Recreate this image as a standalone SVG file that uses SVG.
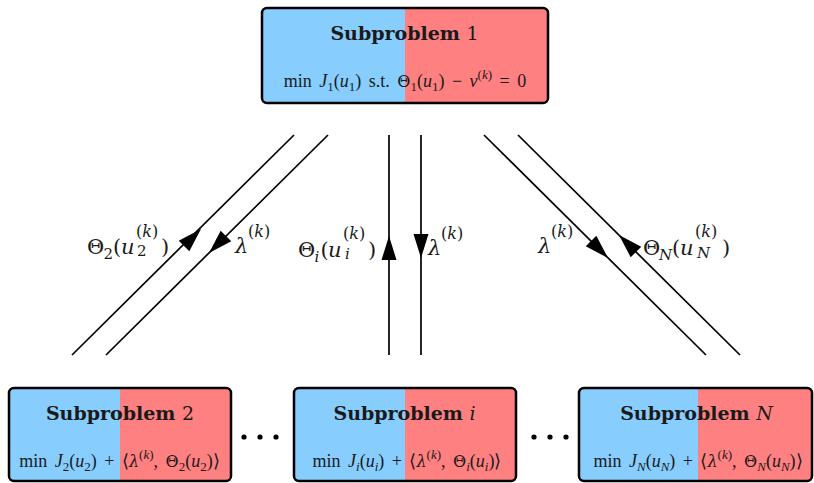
<svg xmlns="http://www.w3.org/2000/svg" xmlns:xlink="http://www.w3.org/1999/xlink" width="814" height="483" viewBox="0 0 814 483">
<style>
.bd{stroke:#000;stroke-width:2.5;fill:none}
.bl{fill:#87CEFF}
.rd{fill:#FF8080}
.t{fill:#1a1a1a}
.ttl{font-family:"DejaVu Serif",serif;font-size:19px;font-weight:bold}
.fm{font-family:"Liberation Serif",serif;font-size:18px;word-spacing:3px}
.g{font-family:"DejaVu Serif",serif;font-size:16px}
.lb{font-family:"DejaVu Serif",serif;font-size:21px}
.sp{font-size:16px}
.sb{font-size:15px}
.s{font-size:13px}
.i{font-style:italic}
.ln{stroke:#000;stroke-width:1.7;fill:none}
.ah{fill:#000}
.dot{fill:#000}
</style>
<defs>
<path id="ah" d="M0,0 L-24,-7.5 L-24,7.5 Z"/>
</defs>
<rect width="814" height="483" fill="#fff"/>
<g id="sub1">
<rect class="rd" x="262" y="8" width="286" height="95" rx="5"/>
<path class="bl" d="M267,8 H405 V103 H267 A5,5 0 0 1 262,98 V13 A5,5 0 0 1 267,8 Z"/>
<rect class="bd" x="262" y="8" width="286" height="95" rx="5"/>
<text class="t ttl" x="404.5" y="40" text-anchor="middle">Subproblem <tspan font-weight="normal">1</tspan></text>
<text class="t fm" x="405" y="87" text-anchor="middle">min <tspan class="i">J</tspan><tspan class="s" dy="4">1</tspan><tspan dy="-4">(</tspan><tspan class="i">u</tspan><tspan class="s" dy="4">1</tspan><tspan dy="-4">) s.t. </tspan><tspan class="g">Θ</tspan><tspan class="s" dy="4">1</tspan><tspan dy="-4">(</tspan><tspan class="i">u</tspan><tspan class="s" dy="4">1</tspan><tspan dy="-4">) − </tspan><tspan class="i">v</tspan><tspan class="s" dy="-8">(</tspan><tspan class="s i">k</tspan><tspan class="s">)</tspan><tspan dy="8"> = 0</tspan></text>
</g>

<g id="sub2">
<rect class="rd" x="9" y="388" width="222" height="93" rx="5"/>
<path class="bl" d="M14,388 H120 V481 H14 A5,5 0 0 1 9,476 V393 A5,5 0 0 1 14,388 Z"/>
<rect class="bd" x="9" y="388" width="222" height="93" rx="5"/>
<text class="t ttl" x="120" y="420" text-anchor="middle">Subproblem <tspan font-weight="normal">2</tspan></text>
<text class="t fm" x="119.5" y="467" text-anchor="middle">min <tspan class="i">J</tspan><tspan class="s" dy="4">2</tspan><tspan dy="-4">(</tspan><tspan class="i">u</tspan><tspan class="s" dy="4">2</tspan><tspan dy="-4">) + ⟨</tspan><tspan class="g i">λ</tspan><tspan class="s" dy="-8">(</tspan><tspan class="s i">k</tspan><tspan class="s">)</tspan><tspan dy="8">, </tspan><tspan class="g">Θ</tspan><tspan class="s" dy="4">2</tspan><tspan dy="-4">(</tspan><tspan class="i">u</tspan><tspan class="s" dy="4">2</tspan><tspan dy="-4">)⟩</tspan></text>
</g>

<g id="subi">
<rect class="rd" x="294" y="388" width="222" height="93" rx="5"/>
<path class="bl" d="M299,388 H405 V481 H299 A5,5 0 0 1 294,476 V393 A5,5 0 0 1 299,388 Z"/>
<rect class="bd" x="294" y="388" width="222" height="93" rx="5"/>
<text class="t ttl" x="404.5" y="420" text-anchor="middle">Subproblem <tspan class="i" font-weight="normal">i</tspan></text>
<text class="t fm" x="407" y="467" text-anchor="middle">min <tspan class="i">J</tspan><tspan class="s i" dy="4">i</tspan><tspan dy="-4">(</tspan><tspan class="i">u</tspan><tspan class="s i" dy="4">i</tspan><tspan dy="-4">) + ⟨</tspan><tspan class="g i">λ</tspan><tspan class="s" dy="-8">(</tspan><tspan class="s i">k</tspan><tspan class="s">)</tspan><tspan dy="8">, </tspan><tspan class="g">Θ</tspan><tspan class="s i" dy="4">i</tspan><tspan dy="-4">(</tspan><tspan class="i">u</tspan><tspan class="s i" dy="4">i</tspan><tspan dy="-4">)⟩</tspan></text>
</g>

<g id="subN">
<rect class="rd" x="579" y="388" width="233" height="93" rx="5"/>
<path class="bl" d="M584,388 H698 V481 H584 A5,5 0 0 1 579,476 V393 A5,5 0 0 1 584,388 Z"/>
<rect class="bd" x="579" y="388" width="233" height="93" rx="5"/>
<text class="t ttl" x="696.5" y="420" text-anchor="middle">Subproblem <tspan class="i" font-weight="normal">N</tspan></text>
<text class="t fm" x="698" y="467" text-anchor="middle">min <tspan class="i">J</tspan><tspan class="s i" dy="4">N</tspan><tspan dy="-4">(</tspan><tspan class="i">u</tspan><tspan class="s i" dy="4">N</tspan><tspan dy="-4">) + ⟨</tspan><tspan class="g i">λ</tspan><tspan class="s" dy="-8">(</tspan><tspan class="s i">k</tspan><tspan class="s">)</tspan><tspan dy="8">, </tspan><tspan class="g">Θ</tspan><tspan class="s i" dy="4">N</tspan><tspan dy="-4">(</tspan><tspan class="i">u</tspan><tspan class="s i" dy="4">N</tspan><tspan dy="-4">)⟩</tspan></text>
</g>

<g id="dots">
<circle class="dot" cx="244" cy="437" r="2.6"/>
<circle class="dot" cx="260" cy="437" r="2.6"/>
<circle class="dot" cx="276" cy="437" r="2.6"/>
<circle class="dot" cx="534" cy="437" r="2.6"/>
<circle class="dot" cx="550" cy="437" r="2.6"/>
<circle class="dot" cx="566" cy="437" r="2.6"/>
</g>

<g id="connectors">
<line class="ln" x1="72" y1="355" x2="294" y2="135"/>
<line class="ln" x1="106" y1="355" x2="328" y2="135"/>
<line class="ln" x1="389" y1="355" x2="389" y2="135"/>
<line class="ln" x1="421" y1="355" x2="421" y2="135"/>
<line class="ln" x1="484" y1="135" x2="706" y2="355"/>
<line class="ln" x1="518" y1="135" x2="740" y2="355"/>
<use class="ah" xlink:href="#ah" transform="translate(201,229) rotate(-45)"/>
<use class="ah" xlink:href="#ah" transform="translate(209,253) rotate(135)"/>
<use class="ah" xlink:href="#ah" transform="translate(389,236) rotate(-90)"/>
<use class="ah" xlink:href="#ah" transform="translate(421,258) rotate(90)"/>
<use class="ah" xlink:href="#ah" transform="translate(608,258) rotate(45)"/>
<use class="ah" xlink:href="#ah" transform="translate(619,235) rotate(-135)"/>
</g>

<g id="labels">
<text class="t lb"><tspan x="87" y="254">Θ</tspan><tspan class="sb" x="103.5" y="259">2</tspan><tspan x="113" y="254">(</tspan><tspan class="i" x="121" y="254">u</tspan><tspan class="sp" x="136" y="237">(</tspan><tspan class="sp i">k</tspan><tspan class="sp">)</tspan><tspan class="sb" x="137" y="256">2</tspan><tspan x="161" y="254">)</tspan></text>
<text class="t lb"><tspan class="i" x="235" y="253">λ</tspan><tspan class="sp" x="248" y="237">(</tspan><tspan class="sp i">k</tspan><tspan class="sp">)</tspan></text>

<text class="t lb"><tspan x="298" y="257">Θ</tspan><tspan class="sb i" x="314.5" y="262">i</tspan><tspan x="320.5" y="257">(</tspan><tspan class="i" x="328" y="257">u</tspan><tspan class="sp" x="343" y="239">(</tspan><tspan class="sp i">k</tspan><tspan class="sp">)</tspan><tspan class="sb i" x="345" y="259">i</tspan><tspan x="368" y="257">)</tspan></text>
<text class="t lb"><tspan class="i" x="428" y="255">λ</tspan><tspan class="sp" x="441" y="239">(</tspan><tspan class="sp i">k</tspan><tspan class="sp">)</tspan></text>

<text class="t lb"><tspan class="i" x="538" y="253">λ</tspan><tspan class="sp" x="551" y="237">(</tspan><tspan class="sp i">k</tspan><tspan class="sp">)</tspan></text>
<text class="t lb"><tspan x="643" y="255">Θ</tspan><tspan class="sb i" x="659" y="260">N</tspan><tspan x="672" y="255">(</tspan><tspan class="i" x="680" y="255">u</tspan><tspan class="sp" x="695" y="237">(</tspan><tspan class="sp i">k</tspan><tspan class="sp">)</tspan><tspan class="sb i" x="697" y="258">N</tspan><tspan x="722" y="255">)</tspan></text>
</g>
</svg>
